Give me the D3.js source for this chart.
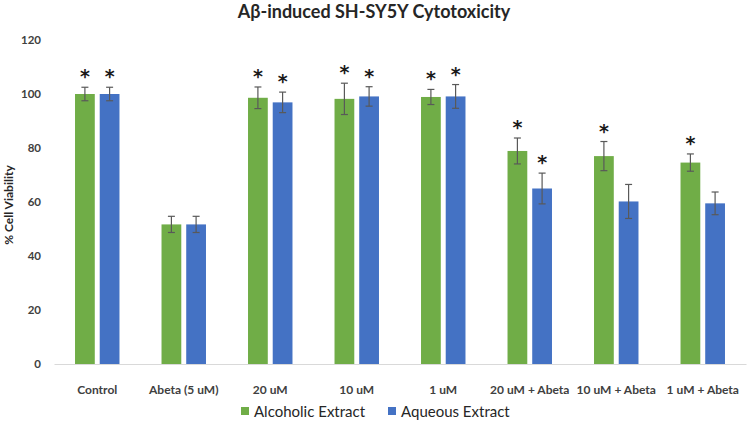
<!DOCTYPE html>
<html><head><meta charset="utf-8">
<script src="https://cdn.jsdelivr.net/npm/d3@7/dist/d3.min.js"></script>
<style>body{margin:0;background:#fff;} svg{display:block;font-family:Lato, "Open Sans", sans-serif;}</style>
</head><body>
<svg id="c" width="749" height="423"></svg>
<script>
const categories = ["Control","Abeta (5 uM)","20 uM","10 uM","1 uM","20 uM + Abeta","10 uM + Abeta","1 uM + Abeta"];
const seriesNames = ["Alcoholic Extract","Aqueous Extract"];
const alcoholic = [100, 51.7, 98.6, 98.2, 98.9, 78.9, 77.0, 74.6];
const aqueous   = [100, 51.7, 96.9, 99.1, 99.1, 65.0, 60.2, 59.5];
const alcoholicErr = [2.5, 3.0, 4.0, 5.8, 2.8, 4.8, 5.4, 3.2];
const aqueousErr   = [2.5, 3.0, 3.8, 3.6, 4.4, 5.7, 6.3, 4.2];
const alcoholicSig = [true, false, true, true, true, true, true, true];
const aqueousSig   = [true, false, true, true, true, true, false, false];
const yTicks = [0, 20, 40, 60, 80, 100, 120];
const colors = ["#70AD47", "#4472C4"];

const svg = d3.select("#c");
const y = d3.scaleLinear().domain([0, 120]).range([364, 40]);
const x0 = d3.scaleBand().domain(categories).range([54, 746]).paddingInner(0).paddingOuter(0);
const bw = x0.bandwidth();
const x1 = d3.scaleBand().domain(seriesNames).range([bw*0.243, bw*0.757]).paddingInner(0.2);

const rows = categories.map((c,i)=>({c, vals:[
  {s:seriesNames[0], v:alcoholic[i], e:alcoholicErr[i], sig:alcoholicSig[i], k:0},
  {s:seriesNames[1], v:aqueous[i], e:aqueousErr[i], sig:aqueousSig[i], k:1}]}));

// title
svg.append("text").attr("x", 374).attr("y", 18).attr("text-anchor","middle")
  .attr("font-size", 18).attr("font-weight","bold").attr("fill","#262626")
  .text("Aβ-induced SH-SY5Y Cytotoxicity");

// y axis (labels only)
const yAxis = d3.axisLeft(y).tickValues(yTicks).tickSize(0).tickPadding(0);
const yg = svg.append("g").attr("transform","translate(41,0)").call(yAxis);
yg.select(".domain").remove();
yg.selectAll("text").attr("font-size", 11.5).attr("font-weight","bold").attr("fill","#404040")
  .attr("font-family","Lato, sans-serif");

svg.append("text").attr("transform","translate(13,205) rotate(-90)").attr("text-anchor","middle")
  .attr("font-size", 12).attr("font-weight","bold").attr("fill","#262626").text("% Cell Viability");

// x axis
const xAxis = d3.axisBottom(x0).tickSize(0).tickPadding(0);
const xg = svg.append("g").attr("transform","translate(0,364)").call(xAxis);
xg.select(".domain").attr("stroke","#D9D9D9").attr("stroke-width",1);
xg.selectAll("text").attr("y", 21).attr("font-size", 12).attr("font-weight","bold").attr("fill","#404040")
  .attr("font-family","Lato, sans-serif");

// bars
const g = svg.selectAll("g.cat").data(rows).join("g").attr("class","cat")
  .attr("transform", d=>`translate(${x0(d.c)},0)`);
g.selectAll("rect").data(d=>d.vals).join("rect")
  .attr("x", d=>x1(d.s)).attr("width", x1.bandwidth())
  .attr("y", d=>y(d.v)).attr("height", d=>y(0)-y(d.v))
  .attr("fill", d=>colors[d.k]);

// error bars
const eb = g.selectAll("g.err").data(d=>d.vals).join("g").attr("class","err")
  .attr("stroke","#595959").attr("stroke-width",1.2);
eb.append("line").attr("x1", d=>x1(d.s)+x1.bandwidth()/2).attr("x2", d=>x1(d.s)+x1.bandwidth()/2)
  .attr("y1", d=>y(d.v+d.e)).attr("y2", d=>y(d.v-d.e));
eb.append("line").attr("x1", d=>x1(d.s)+x1.bandwidth()/2-3.5).attr("x2", d=>x1(d.s)+x1.bandwidth()/2+3.5)
  .attr("y1", d=>y(d.v+d.e)).attr("y2", d=>y(d.v+d.e));
eb.append("line").attr("x1", d=>x1(d.s)+x1.bandwidth()/2-3.5).attr("x2", d=>x1(d.s)+x1.bandwidth()/2+3.5)
  .attr("y1", d=>y(d.v-d.e)).attr("y2", d=>y(d.v-d.e));

// significance asterisks
g.selectAll("text.sig").data(d=>d.vals.filter(v=>v.sig)).join("text").attr("class","sig")
  .attr("x", d=>x1(d.s)+x1.bandwidth()/2).attr("y", d=>y(d.v+d.e)-4)
  .attr("text-anchor","middle").attr("font-size", 19).attr("font-weight","bold").attr("fill","#1a1a1a")
  .attr("font-family","DejaVu Sans, sans-serif").text("*");

// legend
const lg = svg.append("g").attr("transform","translate(0,411)");
const items = [{n:seriesNames[0], x:241},{n:seriesNames[1], x:388}];
items.forEach((it,i)=>{
  lg.append("rect").attr("x", it.x).attr("y", -4).attr("width", 8).attr("height", 8).attr("fill", colors[i]);
  lg.append("text").attr("x", it.x+13).attr("y", 5.5).attr("font-size", 15).attr("fill","#262626")
    .attr("font-family","Lato, sans-serif").text(it.n);
});
</script>
</body></html>
